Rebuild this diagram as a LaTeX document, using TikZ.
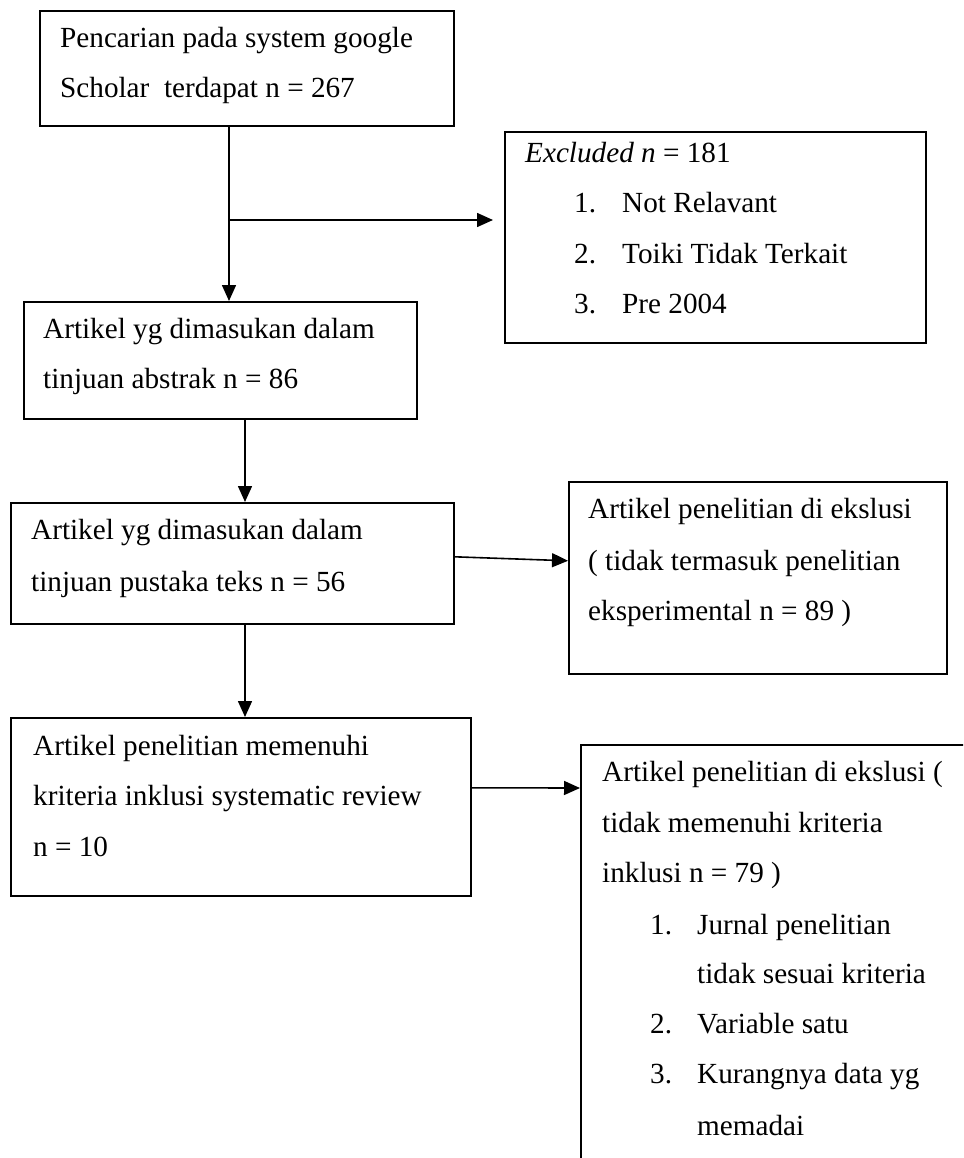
\documentclass[tikz,border=0pt]{standalone}
\usepackage{fontspec}
\setmainfont{Liberation Serif}
\usetikzlibrary{arrows.meta}
\begin{document}
\begin{tikzpicture}[x=1pt,y=-1pt,
  box/.style={draw, line width=1.6pt, inner sep=0pt, anchor=north west},
  txt/.style={anchor=base west, inner sep=0pt, font=\fontsize{29.2pt}{50pt}\selectfont},
  conn/.style={line width=1.6pt, -{Triangle[length=16pt,width=14pt]}},
  plain/.style={line width=1.6pt}]
\useasboundingbox (0,0) rectangle (963,1158);
\clip (0,0) rectangle (963,1158);

% boxes
\node[box, minimum width=414pt, minimum height=115pt] (b1) at (39,10) {};
\node[box, minimum width=421pt, minimum height=211pt] (bex) at (504,131) {};
\node[box, minimum width=393pt, minimum height=117pt] (b2) at (23,301) {};
\node[box, minimum width=443pt, minimum height=121pt] (b3) at (10,502) {};
\node[box, minimum width=378pt, minimum height=192pt] (b4) at (568,481) {};
\node[box, minimum width=460pt, minimum height=178pt] (b5) at (10,717) {};
\node[box, minimum width=500pt, minimum height=500pt] (b6) at (580,744) {};

% texts
\node[txt] (t1a) at (60,48) {Pencarian pada system google};
\node[txt] (t1b) at (60,98) {Scholar\ \ terdapat n = 267};

\node[txt] (e0) at (525,163) {\textit{Excluded n} = 181};
\node[txt] (e1n) at (574,213) {1.};
\node[txt] (e1) at (622,213) {Not Relavant};
\node[txt] (e2n) at (574,263) {2.};
\node[txt] (e2) at (622,263) {Toiki Tidak Terkait};
\node[txt] (e3n) at (574,313) {3.};
\node[txt] (e3) at (622,313) {Pre 2004};

\node[txt] (t2a) at (43,338) {Artikel yg dimasukan dalam};
\node[txt] (t2b) at (43,388) {tinjuan abstrak n = 86};

\node[txt] (t3a) at (31,539) {Artikel yg dimasukan dalam};
\node[txt] (t3b) at (31,591) {tinjuan pustaka teks n = 56};

\node[txt] (t4a) at (588,518) {Artikel penelitian di ekslusi};
\node[txt] (t4b) at (588,570) {( tidak termasuk penelitian};
\node[txt] (t4c) at (588,620) {eksperimental n = 89 )};

\node[txt] (t5a) at (33,755) {Artikel penelitian memenuhi};
\node[txt] (t5b) at (33,805) {kriteria inklusi systematic review};
\node[txt] (t5c) at (33,856) {n = 10};

\node[txt] (t6a) at (602,781) {Artikel penelitian di ekslusi (};
\node[txt] (t6b) at (602,832) {tidak memenuhi kriteria};
\node[txt] (t6c) at (602,882) {inklusi n = 79 )};
\node[txt] (l1n) at (650,934) {1.};
\node[txt] (l1a) at (697,934) {Jurnal penelitian};
\node[txt] (l1b) at (697,983) {tidak sesuai kriteria};
\node[txt] (l2n) at (650,1033) {2.};
\node[txt] (l2) at (697,1033) {Variable satu};
\node[txt] (l3n) at (650,1083) {3.};
\node[txt] (l3a) at (697,1083) {Kurangnya data yg};
\node[txt] (l3b) at (697,1135) {memadai};

% connectors
\coordinate (j) at (229,220);
\coordinate (k) at (245,460);
\path (bex.west |- j) ++(-11,0) coordinate (ea);
\draw[plain] (b1.south -| j) -- (j);
\draw[conn] (j) -- (b2.north -| j);
\draw[conn] (j) -- (ea);
\draw[conn] (b2.south -| k) -- (b3.north -| k);
\draw[conn] ([yshift=6.5pt]b3.east) -- ([yshift=17pt]b4.west);
\draw[conn] (b3.south -| k) -- (b5.north -| k);
\draw[conn] ([yshift=19pt]b5.east) -- ([yshift=-44pt]b6.north west);
\end{tikzpicture}
\end{document}
